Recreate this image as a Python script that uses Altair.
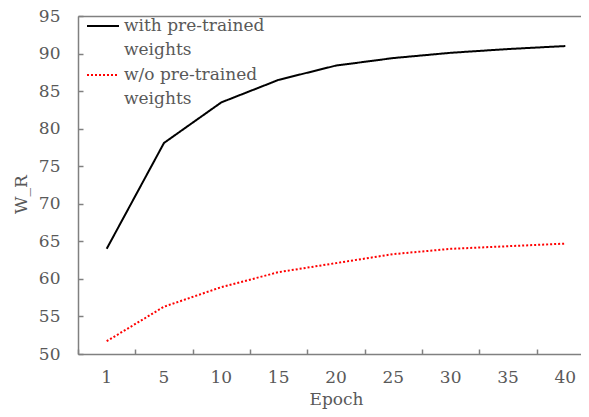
import altair as alt
import pandas as pd

epochs = ["1", "5", "10", "15", "20", "25", "30", "35", "40"]
with_pre = [64.0, 78.1, 83.5, 86.5, 88.4, 89.4, 90.1, 90.6, 91.0]
without_pre = [51.7, 56.3, 58.9, 60.9, 62.1, 63.3, 64.0, 64.35, 64.7]
series = ["with pre-trained weights", "w/o pre-trained weights"]
y_ticks = [50, 55, 60, 65, 70, 75, 80, 85, 90, 95]

rows = []
for e, a, b in zip(epochs, with_pre, without_pre):
    rows.append({"Epoch": e, "W_R": a, "series": series[0]})
    rows.append({"Epoch": e, "W_R": b, "series": series[1]})
df = pd.DataFrame(rows)

FONT = "DejaVu Serif"
FS = 17
GRAY = "#595959"
AXIS = "#808080"
W, H = 503, 338

xscale = alt.Scale(type="band", domain=epochs, range=[0, 516], paddingInner=0, paddingOuter=0)
yscale = alt.Scale(domain=[50, 95], nice=False, zero=False)

legend = alt.Legend(
    title=None, orient="none", legendX=8, legendY=-7, padding=0,
    symbolType="stroke", symbolSize=1024, symbolStrokeWidth=2,
    labelFont=FONT, labelFontSize=FS, labelColor=GRAY, labelOffset=4,
    labelLimit=400, rowPadding=-8, labelBaseline="middle",
    labelExpr="[split(datum.label, ' weights')[0], 'weights']",
)

base = alt.Chart(df)

lines = base.mark_line(strokeWidth=2, interpolate="linear").encode(
    x=alt.X("Epoch:N", scale=xscale, sort=epochs,
            axis=alt.Axis(orient="bottom", title="Epoch", ticks=False, tickSize=0,
                          labelPadding=15, labelAngle=0, domainColor=AXIS, domainWidth=1.5,
                          labelColor=GRAY, labelFont=FONT, labelFontSize=FS,
                          titleFont=FONT, titleFontSize=FS, titleColor=GRAY,
                          titleFontWeight="normal", titlePadding=6, grid=False)),
    y=alt.Y("W_R:Q", scale=yscale,
            axis=alt.Axis(orient="left", values=y_ticks, ticks=False, tickSize=0, grid=False,
                          labelPadding=18, domainColor=AXIS, domainWidth=1.5,
                          labelColor=GRAY, labelFont=FONT, labelFontSize=FS,
                          title="W_R", titleFont=FONT, titleFontSize=FS, titleColor=GRAY,
                          titleFontWeight="normal", titleX=-48, titleY=178)),
    color=alt.Color("series:N", scale=alt.Scale(domain=series, range=["#000000", "#ff0000"]),
                    legend=legend),
    strokeDash=alt.StrokeDash("series:N", scale=alt.Scale(domain=series, range=[[1, 0], [2, 2]]),
                              legend=legend),
)

ticks = base.mark_line(opacity=0).encode(
    x=alt.X("Epoch:N", scale=xscale, sort=epochs,
            axis=alt.Axis(orient="top", offset=-H, labels=False, domain=False, ticks=True,
                          tickSize=5, tickBand="extent", tickColor=AXIS, tickWidth=1.5,
                          title=None, grid=False)),
    y=alt.Y("W_R:Q", scale=yscale,
            axis=alt.Axis(orient="right", offset=-W, values=y_ticks, labels=False, domain=False,
                          ticks=True, tickSize=5, tickColor=AXIS, tickWidth=1.5,
                          title=None, grid=False)),
    detail="series:N",
)

frame = base.mark_line(opacity=0).encode(
    x=alt.X("Epoch:N", scale=xscale, sort=epochs,
            axis=alt.Axis(orient="top", labels=False, ticks=False, domain=True,
                          domainColor=AXIS, domainWidth=1.5, title=None, grid=False)),
    y=alt.Y("W_R:Q", scale=yscale, axis=None),
    detail="series:N",
)

chart = alt.layer(lines, ticks, frame).resolve_axis(x="independent", y="independent").properties(
    width=W, height=H,
    autosize=alt.AutoSizeParams(type="none"),
    padding={"left": 70, "top": 8, "right": 0, "bottom": 55},
).configure_view(strokeWidth=0).configure(
    background="white",
    style={"guide-label": {"lineHeight": 24}},
)

chart.save("out.html", embed_options={"renderer": "svg", "actions": False})
